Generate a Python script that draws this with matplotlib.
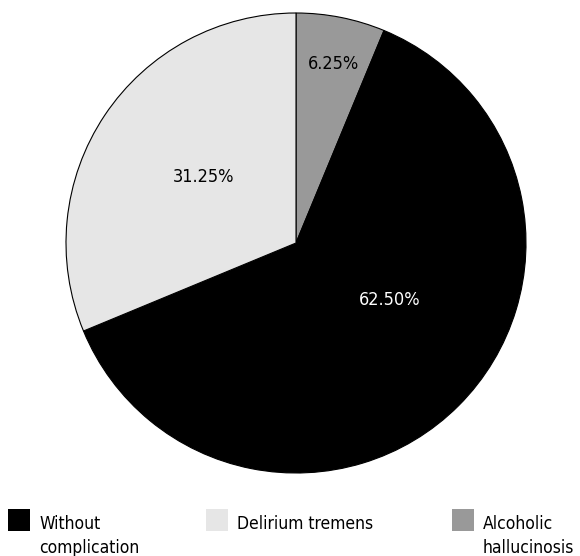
import matplotlib.pyplot as plt
from matplotlib.patches import Rectangle

plt.rcParams['font.family'] = ['DejaVu Sans']
plt.rcParams['font.stretch'] = 'condensed'

W, H = 580, 556

# slices in drawing order (clockwise from 12 o'clock)
categories = ['Alcoholic\nhallucinosis', 'Without\ncomplication', 'Delirium tremens']
values = [6.25, 62.50, 31.25]
colors = ['#999999', '#000000', '#e6e6e6']
text_colors = ['#000000', '#ffffff', '#000000']
# label positions in pie units
label_pos = [(0.161, 0.778), (0.409, -0.248), (-0.404, 0.287)]

legend_order = [1, 2, 0]
legend_x = [8, 206, 452]   # pixel x of legend squares

fig = plt.figure(figsize=(W / 100, H / 100), dpi=100)
cx, cy, r = 296, 243, 230
ax = fig.add_axes([(cx - r) / W, (H - cy - r) / H, 2 * r / W, 2 * r / H])

ax.pie(values, colors=colors, startangle=90, counterclock=False,
       wedgeprops=dict(edgecolor='black', linewidth=0.8))
ax.set_xlim(-1, 1)
ax.set_ylim(-1, 1)
ax.set_aspect('equal')

for v, (x, y), c in zip(values, label_pos, text_colors):
    ax.text(x, y, f'{v:.2f}%', ha='center', va='center', fontsize=13, color=c)

# legend: square + (possibly two-line) label
for i, x in zip(legend_order, legend_x):
    fig.add_artist(Rectangle((x / W, (H - 531) / H), 22 / W, 22 / H,
                             facecolor=colors[i], edgecolor='none',
                             transform=fig.transFigure))
    for k, line in enumerate(categories[i].split('\n')):
        fig.text((x + 31) / W, (H - 529 - 24 * k) / H, line,
                 ha='left', va='baseline', fontsize=12.5)

fig.savefig('out.png', dpi=100)
